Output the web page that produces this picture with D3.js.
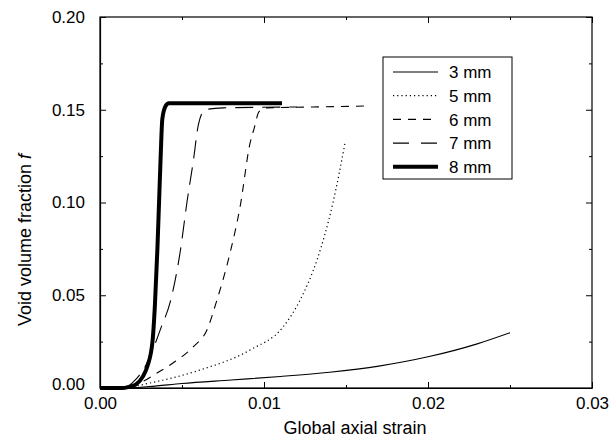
<!DOCTYPE html>
<meta charset="utf-8">
<body style="margin:0;background:#fff">
<script src="https://cdn.jsdelivr.net/npm/d3@7"></script>
<svg id="chart" width="611" height="442"></svg>
<script>
// strain values (x) and void volume fraction (y)
var s3 = [0, 0.0015, 0.003, 0.005, 0.008, 0.011, 0.014, 0.017, 0.020, 0.023, 0.025];
var f3 = [0, 0, 0.0008, 0.0024, 0.0043, 0.0062, 0.0085, 0.0118, 0.0168, 0.0238, 0.0298];

var s5 = [0, 0.0014, 0.0018, 0.00305, 0.0061, 0.00915, 0.01116, 0.0122, 0.01323, 0.0142, 0.01494];
var f5 = [0, 0, 0.0005, 0.0027, 0.0097, 0.0205, 0.0329, 0.0474, 0.069, 0.0997, 0.132];

var s6 = [0, 0.0014, 0.0017, 0.0025, 0.00348, 0.00445, 0.00567, 0.00652, 0.00713, 0.00793, 0.00854, 0.00915, 0.0094, 0.0097, 0.0102, 0.013, 0.0162];
var f6 = [0, 0, 0.0005, 0.003, 0.0081, 0.0135, 0.0221, 0.0313, 0.0474, 0.0728, 0.0976, 0.132, 0.140, 0.149, 0.151, 0.1515, 0.152];

var s7 = [0, 0.0015, 0.002, 0.0029, 0.0037, 0.0043, 0.0049, 0.0053, 0.0057, 0.006, 0.0064, 0.0075, 0.012];
var f7 = [0, 0, 0.003, 0.014, 0.032, 0.047, 0.074, 0.100, 0.123, 0.142, 0.150, 0.151, 0.1515];

var s8 = [0, 0.0014, 0.0017, 0.0022, 0.0026, 0.0029, 0.0032, 0.00335, 0.0035, 0.0036, 0.0037, 0.0038, 0.0040, 0.0042, 0.0111];
var f8 = [0, 0, 0.0005, 0.002, 0.006, 0.012, 0.025, 0.045, 0.075, 0.100, 0.125, 0.145, 0.152, 0.1535, 0.1535];

var seriesNames = ["3 mm", "5 mm", "6 mm", "7 mm", "8 mm"];
var xTicks = [0, 0.01, 0.02, 0.03];
var yTicks = [0, 0.05, 0.10, 0.15, 0.20];

var series = [
  {name: seriesNames[0], s: s3, f: f3, w: 1.1, dash: null},
  {name: seriesNames[1], s: s5, f: f5, w: 1.2, dash: "1.2,3"},
  {name: seriesNames[2], s: s6, f: f6, w: 1.1, dash: "8,7"},
  {name: seriesNames[3], s: s7, f: f7, w: 1.1, dash: "18,9"},
  {name: seriesNames[4], s: s8, f: f8, w: 4, dash: null}
];

var svg = d3.select("#chart");
var font = "'Liberation Sans', Arial, sans-serif";

var x = d3.scaleLinear().domain([0, 0.03]).range([100, 592]);
var y = d3.scaleLinear().domain([0, 0.20]).range([388, 17]);

var xMinor = d3.range(0.005, 0.03, 0.01);
var yMinor = d3.range(0.025, 0.2, 0.05);

// frame
svg.append("rect")
  .attr("x", x(0)).attr("y", y(0.2))
  .attr("width", x(0.03) - x(0)).attr("height", y(0) - y(0.2))
  .attr("fill", "none").attr("stroke", "#000").attr("stroke-width", 1.2);

// bottom and left axes, ticks inside
var xAxis = svg.append("g").attr("transform", "translate(0," + y(0) + ")")
  .call(d3.axisBottom(x).tickValues(xTicks).tickSizeInner(-6).tickSizeOuter(0).tickPadding(9)
    .tickFormat(d3.format(".2f")));
var yAxis = svg.append("g").attr("transform", "translate(" + x(0) + ",0)")
  .call(d3.axisLeft(y).tickValues(yTicks).tickSizeInner(-6).tickSizeOuter(0).tickPadding(15)
    .tickFormat(d3.format(".2f")));

// minor ticks and mirrored ticks on top / right
function bare(g) { g.select(".domain").remove(); }
svg.append("g").attr("transform", "translate(0," + y(0) + ")")
  .call(d3.axisBottom(x).tickValues(xMinor).tickSize(-3).tickFormat("")).call(bare);
svg.append("g").attr("transform", "translate(" + x(0) + ",0)")
  .call(d3.axisLeft(y).tickValues(yMinor).tickSize(-3).tickFormat("")).call(bare);
svg.append("g").attr("transform", "translate(0," + y(0.2) + ")")
  .call(d3.axisTop(x).tickValues(xTicks).tickSize(-6).tickFormat("")).call(bare);
svg.append("g").attr("transform", "translate(0," + y(0.2) + ")")
  .call(d3.axisTop(x).tickValues(xMinor).tickSize(-3).tickFormat("")).call(bare);
svg.append("g").attr("transform", "translate(" + x(0.03) + ",0)")
  .call(d3.axisRight(y).tickValues(yTicks).tickSize(-6).tickFormat("")).call(bare);
svg.append("g").attr("transform", "translate(" + x(0.03) + ",0)")
  .call(d3.axisRight(y).tickValues(yMinor).tickSize(-3).tickFormat("")).call(bare);

svg.selectAll(".tick text").attr("font-family", font).attr("font-size", 17).attr("fill", "#000");
svg.selectAll(".tick line").attr("stroke", "#000");
svg.selectAll(".domain").attr("stroke", "#000").attr("stroke-width", 1.2);
yAxis.selectAll(".tick text").attr("dy", "0.32em");
yAxis.selectAll(".tick text").filter(function(d) { return d === 0; }).attr("dy", "0.1em");

// curves
var line = d3.line()
  .x(function(d) { return x(d[0]); })
  .y(function(d) { return y(d[1]); })
  .curve(d3.curveMonotoneX);

series.forEach(function(ser) {
  var pts = ser.s.map(function(v, i) { return [v, ser.f[i]]; });
  svg.append("path")
    .datum(pts)
    .attr("d", line)
    .attr("fill", "none")
    .attr("stroke", "#000")
    .attr("stroke-width", ser.w)
    .attr("stroke-dasharray", ser.dash)
    .attr("stroke-linejoin", "round");
});

// legend
var lg = svg.append("g");
lg.append("rect").attr("x", 383).attr("y", 57).attr("width", 129).attr("height", 122)
  .attr("fill", "#fff").attr("stroke", "#000").attr("stroke-width", 1);
series.forEach(function(ser, i) {
  var yy = 72 + i * 23.7;
  lg.append("line").attr("x1", 393).attr("x2", 438).attr("y1", yy).attr("y2", yy)
    .attr("stroke", "#000").attr("stroke-width", ser.w)
    .attr("stroke-dasharray", ser.dash === "18,9" ? "16,12" : ser.dash);
  lg.append("text").attr("x", 449).attr("y", yy).attr("dy", "0.36em")
    .attr("font-family", font).attr("font-size", 17).text(ser.name);
});

// axis titles
svg.append("text")
  .attr("x", 355).attr("y", 434)
  .attr("text-anchor", "middle").attr("font-family", font).attr("font-size", 18)
  .text("Global axial strain");

var yt = svg.append("text")
  .attr("transform", "translate(31,240) rotate(-90)")
  .attr("text-anchor", "middle").attr("font-family", font).attr("font-size", 18);
yt.append("tspan").text("Void volume fraction ");
yt.append("tspan").attr("font-style", "italic").text("f");
</script>
</body>
